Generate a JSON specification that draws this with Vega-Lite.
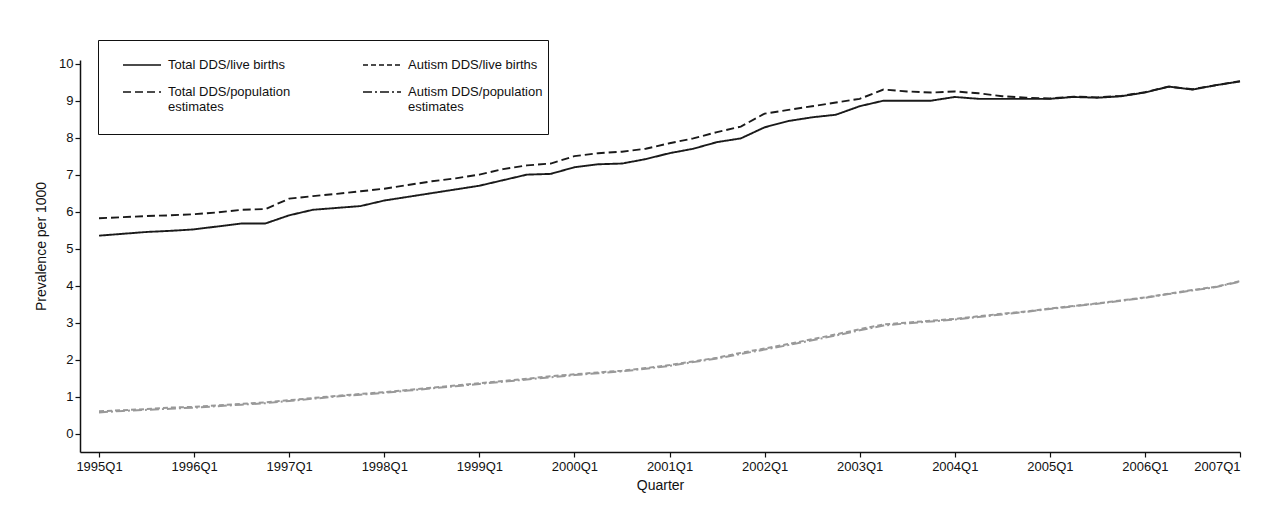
{
  "$schema": "https://vega.github.io/schema/vega-lite/v6.json",
  "autosize": {"type": "none"},
  "padding": {"left": 80, "top": 60, "right": 42, "bottom": 75},
  "width": 1160,
  "height": 392,
  "background": "white",
  "config": {
    "font": "Liberation Sans",
    "view": {"stroke": null},
    "axis": {
      "grid": false,
      "domainColor": "#111",
      "domainWidth": 1.5,
      "tickColor": "#111",
      "tickWidth": 1.2,
      "tickSize": 5,
      "labelColor": "#111",
      "titleColor": "#111",
      "labelFontSize": 13,
      "titleFontSize": 14,
      "titleFontWeight": "normal"
    }
  },
  "data": {
    "values": [
      {"t": 1995.00, "Total DDS/live births": 5.35, "Total DDS/population estimates": 5.82, "Autism DDS/live births": 0.60, "Autism DDS/population estimates": 0.57},
      {"t": 1995.25, "Total DDS/live births": 5.40, "Total DDS/population estimates": 5.85, "Autism DDS/live births": 0.63, "Autism DDS/population estimates": 0.61},
      {"t": 1995.50, "Total DDS/live births": 5.45, "Total DDS/population estimates": 5.88, "Autism DDS/live births": 0.66, "Autism DDS/population estimates": 0.64},
      {"t": 1995.75, "Total DDS/live births": 5.48, "Total DDS/population estimates": 5.90, "Autism DDS/live births": 0.70, "Autism DDS/population estimates": 0.67},
      {"t": 1996.00, "Total DDS/live births": 5.52, "Total DDS/population estimates": 5.93, "Autism DDS/live births": 0.72, "Autism DDS/population estimates": 0.70},
      {"t": 1996.25, "Total DDS/live births": 5.60, "Total DDS/population estimates": 5.98, "Autism DDS/live births": 0.76, "Autism DDS/population estimates": 0.74},
      {"t": 1996.50, "Total DDS/live births": 5.68, "Total DDS/population estimates": 6.05, "Autism DDS/live births": 0.80, "Autism DDS/population estimates": 0.78},
      {"t": 1996.75, "Total DDS/live births": 5.68, "Total DDS/population estimates": 6.07, "Autism DDS/live births": 0.84, "Autism DDS/population estimates": 0.82},
      {"t": 1997.00, "Total DDS/live births": 5.90, "Total DDS/population estimates": 6.35, "Autism DDS/live births": 0.90, "Autism DDS/population estimates": 0.88},
      {"t": 1997.25, "Total DDS/live births": 6.05, "Total DDS/population estimates": 6.42, "Autism DDS/live births": 0.96, "Autism DDS/population estimates": 0.94},
      {"t": 1997.50, "Total DDS/live births": 6.10, "Total DDS/population estimates": 6.48, "Autism DDS/live births": 1.02, "Autism DDS/population estimates": 1.00},
      {"t": 1997.75, "Total DDS/live births": 6.15, "Total DDS/population estimates": 6.55, "Autism DDS/live births": 1.07, "Autism DDS/population estimates": 1.05},
      {"t": 1998.00, "Total DDS/live births": 6.30, "Total DDS/population estimates": 6.62, "Autism DDS/live births": 1.12, "Autism DDS/population estimates": 1.10},
      {"t": 1998.25, "Total DDS/live births": 6.40, "Total DDS/population estimates": 6.72, "Autism DDS/live births": 1.18, "Autism DDS/population estimates": 1.16},
      {"t": 1998.50, "Total DDS/live births": 6.50, "Total DDS/population estimates": 6.82, "Autism DDS/live births": 1.24, "Autism DDS/population estimates": 1.22},
      {"t": 1998.75, "Total DDS/live births": 6.60, "Total DDS/population estimates": 6.90, "Autism DDS/live births": 1.30, "Autism DDS/population estimates": 1.28},
      {"t": 1999.00, "Total DDS/live births": 6.70, "Total DDS/population estimates": 7.00, "Autism DDS/live births": 1.36, "Autism DDS/population estimates": 1.34},
      {"t": 1999.25, "Total DDS/live births": 6.85, "Total DDS/population estimates": 7.15, "Autism DDS/live births": 1.42, "Autism DDS/population estimates": 1.40},
      {"t": 1999.50, "Total DDS/live births": 7.00, "Total DDS/population estimates": 7.25, "Autism DDS/live births": 1.48, "Autism DDS/population estimates": 1.46},
      {"t": 1999.75, "Total DDS/live births": 7.02, "Total DDS/population estimates": 7.30, "Autism DDS/live births": 1.55, "Autism DDS/population estimates": 1.52},
      {"t": 2000.00, "Total DDS/live births": 7.20, "Total DDS/population estimates": 7.50, "Autism DDS/live births": 1.60, "Autism DDS/population estimates": 1.58},
      {"t": 2000.25, "Total DDS/live births": 7.28, "Total DDS/population estimates": 7.58, "Autism DDS/live births": 1.65, "Autism DDS/population estimates": 1.63},
      {"t": 2000.50, "Total DDS/live births": 7.30, "Total DDS/population estimates": 7.62, "Autism DDS/live births": 1.70, "Autism DDS/population estimates": 1.68},
      {"t": 2000.75, "Total DDS/live births": 7.42, "Total DDS/population estimates": 7.70, "Autism DDS/live births": 1.77, "Autism DDS/population estimates": 1.75},
      {"t": 2001.00, "Total DDS/live births": 7.58, "Total DDS/population estimates": 7.85, "Autism DDS/live births": 1.85, "Autism DDS/population estimates": 1.83},
      {"t": 2001.25, "Total DDS/live births": 7.70, "Total DDS/population estimates": 7.98, "Autism DDS/live births": 1.95, "Autism DDS/population estimates": 1.93},
      {"t": 2001.50, "Total DDS/live births": 7.88, "Total DDS/population estimates": 8.15, "Autism DDS/live births": 2.05, "Autism DDS/population estimates": 2.03},
      {"t": 2001.75, "Total DDS/live births": 7.98, "Total DDS/population estimates": 8.30, "Autism DDS/live births": 2.18, "Autism DDS/population estimates": 2.15},
      {"t": 2002.00, "Total DDS/live births": 8.28, "Total DDS/population estimates": 8.65, "Autism DDS/live births": 2.30, "Autism DDS/population estimates": 2.27},
      {"t": 2002.25, "Total DDS/live births": 8.45, "Total DDS/population estimates": 8.75, "Autism DDS/live births": 2.42, "Autism DDS/population estimates": 2.39},
      {"t": 2002.50, "Total DDS/live births": 8.55, "Total DDS/population estimates": 8.85, "Autism DDS/live births": 2.55, "Autism DDS/population estimates": 2.52},
      {"t": 2002.75, "Total DDS/live births": 8.62, "Total DDS/population estimates": 8.95, "Autism DDS/live births": 2.68, "Autism DDS/population estimates": 2.65},
      {"t": 2003.00, "Total DDS/live births": 8.85, "Total DDS/population estimates": 9.05, "Autism DDS/live births": 2.82, "Autism DDS/population estimates": 2.79},
      {"t": 2003.25, "Total DDS/live births": 9.00, "Total DDS/population estimates": 9.30, "Autism DDS/live births": 2.95, "Autism DDS/population estimates": 2.92},
      {"t": 2003.50, "Total DDS/live births": 9.00, "Total DDS/population estimates": 9.25, "Autism DDS/live births": 3.00, "Autism DDS/population estimates": 2.98},
      {"t": 2003.75, "Total DDS/live births": 9.00, "Total DDS/population estimates": 9.22, "Autism DDS/live births": 3.05, "Autism DDS/population estimates": 3.03},
      {"t": 2004.00, "Total DDS/live births": 9.10, "Total DDS/population estimates": 9.25, "Autism DDS/live births": 3.10, "Autism DDS/population estimates": 3.08},
      {"t": 2004.25, "Total DDS/live births": 9.05, "Total DDS/population estimates": 9.20, "Autism DDS/live births": 3.17, "Autism DDS/population estimates": 3.15},
      {"t": 2004.50, "Total DDS/live births": 9.05, "Total DDS/population estimates": 9.12, "Autism DDS/live births": 3.24, "Autism DDS/population estimates": 3.22},
      {"t": 2004.75, "Total DDS/live births": 9.05, "Total DDS/population estimates": 9.08, "Autism DDS/live births": 3.30, "Autism DDS/population estimates": 3.29},
      {"t": 2005.00, "Total DDS/live births": 9.05, "Total DDS/population estimates": 9.06, "Autism DDS/live births": 3.38, "Autism DDS/population estimates": 3.37},
      {"t": 2005.25, "Total DDS/live births": 9.10, "Total DDS/population estimates": 9.11, "Autism DDS/live births": 3.45, "Autism DDS/population estimates": 3.44},
      {"t": 2005.50, "Total DDS/live births": 9.08, "Total DDS/population estimates": 9.09, "Autism DDS/live births": 3.52, "Autism DDS/population estimates": 3.51},
      {"t": 2005.75, "Total DDS/live births": 9.12, "Total DDS/population estimates": 9.13, "Autism DDS/live births": 3.60, "Autism DDS/population estimates": 3.59},
      {"t": 2006.00, "Total DDS/live births": 9.22, "Total DDS/population estimates": 9.23, "Autism DDS/live births": 3.68, "Autism DDS/population estimates": 3.67},
      {"t": 2006.25, "Total DDS/live births": 9.38, "Total DDS/population estimates": 9.38, "Autism DDS/live births": 3.78, "Autism DDS/population estimates": 3.77},
      {"t": 2006.50, "Total DDS/live births": 9.30, "Total DDS/population estimates": 9.31, "Autism DDS/live births": 3.88, "Autism DDS/population estimates": 3.87},
      {"t": 2006.75, "Total DDS/live births": 9.42, "Total DDS/population estimates": 9.42, "Autism DDS/live births": 3.97, "Autism DDS/population estimates": 3.96},
      {"t": 2007.00, "Total DDS/live births": 9.52, "Total DDS/population estimates": 9.53, "Autism DDS/live births": 4.12, "Autism DDS/population estimates": 4.11}
    ]
  },
  "encoding": {
    "x": {
      "field": "t",
      "type": "quantitative",
      "scale": {"domain": [1994.8, 2007], "nice": false, "zero": false},
      "axis": {
        "values": [1995, 1996, 1997, 1998, 1999, 2000, 2001, 2002, 2003, 2004, 2005, 2006, 2007],
        "labelExpr": "datum.value + 'Q1'",
        "title": "Quarter",
        "labelPadding": 3,
        "titlePadding": 5
      }
    },
    "y": {
      "field": "v",
      "type": "quantitative",
      "scale": {"domain": [-0.5, 10.1], "nice": false, "zero": false},
      "axis": {
        "values": [0, 1, 2, 3, 4, 5, 6, 7, 8, 9, 10],
        "title": "Prevalence per 1000",
        "labelPadding": 2,
        "titlePadding": 10,
        "titleY": 186
      }
    },
    "strokeDash": {
      "field": "series",
      "type": "nominal",
      "scale": {
        "domain": ["Total DDS/live births", "Autism DDS/live births", "Total DDS/population estimates", "Autism DDS/population estimates"],
        "range": [[1, 0], [5, 3], [8, 4], [9, 3, 2, 3]]
      },
      "legend": {
        "title": null,
        "orient": "none",
        "legendX": 18,
        "legendY": -20,
        "direction": "horizontal",
        "columns": 2,
        "columnPadding": 52,
        "rowPadding": 0,
        "padding": 5,
        "symbolOffset": 19,
        "strokeColor": "#111",
        "symbolStrokeColor": "#111",
        "symbolStrokeWidth": 1.3,
        "symbolSize": 1444,
        "labelFontSize": 13,
        "labelColor": "#111",
        "labelLimit": 300,
        "labelOffset": 6,
        "labelExpr": "datum.label == 'Total DDS/population estimates' ? ['Total DDS/population', 'estimates', ''] : datum.label == 'Autism DDS/population estimates' ? ['Autism DDS/population', 'estimates', ''] : datum.label"
      }
    }
  },
  "layer": [
    {
      "transform": [
        {"fold": ["Total DDS/live births", "Total DDS/population estimates"], "as": ["series", "v"]}
      ],
      "mark": {"type": "line", "strokeWidth": 1.9, "color": "#1a1a1a", "clip": false}
    },
    {
      "transform": [
        {"fold": ["Autism DDS/live births", "Autism DDS/population estimates"], "as": ["series", "v"]}
      ],
      "mark": {"type": "line", "strokeWidth": 2, "color": "#999999", "clip": false}
    }
  ]
}
